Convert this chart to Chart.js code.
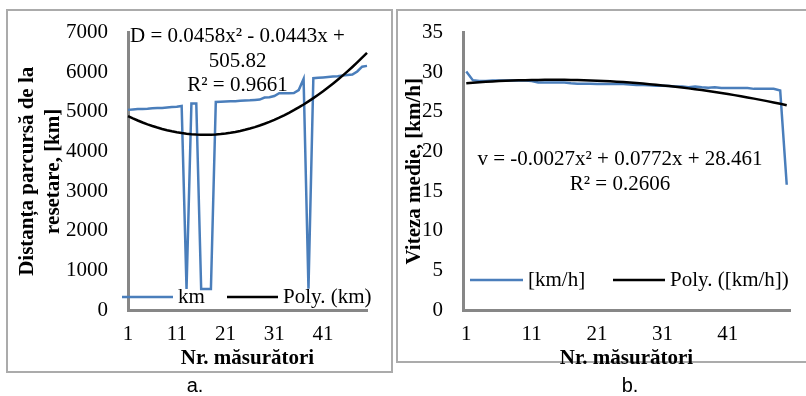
<!DOCTYPE html>
<html>
<head>
<meta charset="utf-8">
<script src="https://cdn.jsdelivr.net/npm/chart.js@4"></script>
<style>
body{margin:0;background:#fff;width:806px;height:396px;overflow:hidden;position:relative}
.box{position:absolute;border:2px solid #ababab;box-sizing:border-box}
canvas{position:absolute}
.cap{position:absolute;font:20px "Liberation Sans",Arial,sans-serif;transform:translateX(-50%)}
</style>
</head>
<body>
<div class="box" style="left:6px;top:9px;width:387px;height:364px"></div>
<div class="box" style="left:396px;top:9px;width:420px;height:354px"></div>
<canvas id="chartA" width="395" height="396" style="left:0;top:0"></canvas>
<canvas id="chartB" width="408" height="396" style="left:398px;top:0"></canvas>
<div class="cap" style="left:195px;top:374px">a.</div>
<div class="cap" style="left:630px;top:374px">b.</div>
<script>
// measurement number 1..50
const measurements = Array.from({length:50}, (_, i) => String(i+1));

// distance since reset [km]
const kmValues = [
  5050,5060,5070,5075,5080,5090,5095,5100,5110,5120,
  5130,5150,530,5210,5210,530,530,530,5250,5255,
  5260,5265,5270,5280,5285,5290,5300,5310,5360,5370,
  5400,5470,5470,5470,5475,5550,5830,540,5850,5860,
  5870,5880,5890,5900,5920,5930,5940,6020,6140,6160
];

// average speed [km/h]
const speedValues = [
  30.1,29.0,28.9,28.9,28.95,28.95,28.95,28.95,28.95,28.95,
  28.9,28.7,28.7,28.7,28.7,28.7,28.6,28.55,28.55,28.55,
  28.5,28.5,28.5,28.5,28.5,28.45,28.4,28.4,28.35,28.3,
  28.3,28.25,28.2,28.2,28.1,28.2,28.1,28.05,28.1,28.0,
  28.0,28.0,28.0,28.0,27.9,27.9,27.9,27.9,27.7,15.8
];

const eqA = ['D = 0.0458x\u00B2 - 0.0443x +', '505.82', 'R\u00B2 = 0.9661'];
const eqB = ['v = -0.0027x\u00B2 + 0.0772x + 28.461', 'R\u00B2 = 0.2606'];

// least squares quadratic, like excel's Poly trendline (x = 1..n)
function polyFit2(ys){
  let s0=0,s1=0,s2=0,s3=0,s4=0,t0=0,t1=0,t2=0;
  ys.forEach((y,i)=>{
    const x=i+1;
    s0+=1; s1+=x; s2+=x*x; s3+=x*x*x; s4+=x*x*x*x;
    t0+=y; t1+=x*y; t2+=x*x*y;
  });
  // solve 3x3
  const m=[[s4,s3,s2,t2],[s3,s2,s1,t1],[s2,s1,s0,t0]];
  for(let c=0;c<3;c++){
    for(let r=c+1;r<3;r++){
      const f=m[r][c]/m[c][c];
      for(let k=c;k<4;k++) m[r][k]-=f*m[c][k];
    }
  }
  const a=[0,0,0];
  for(let r=2;r>=0;r--){
    let s=m[r][3];
    for(let k=r+1;k<3;k++) s-=m[r][k]*a[k];
    a[r]=s/m[r][r];
  }
  return ys.map((_,i)=>{const x=i+1;return a[0]*x*x+a[1]*x+a[2];});
}

const serif = 'Liberation Serif';
const blue = '#4a7ebb';

const overlay = {
  id:'overlay',
  afterDraw(chart, args, opts){
    const {ctx, chartArea:ca} = chart;
    ctx.save();
    ctx.font = '21px "' + serif + '"';
    ctx.fillStyle = '#000';
    ctx.textBaseline = 'middle';
    ctx.textAlign = 'center';
    opts.eq.forEach((t,i)=>{
      ctx.fillText(t, ca.left + opts.eqX, ca.top + opts.eqY[i]);
    });
    // legend
    const ly = ca.bottom + opts.legY;
    ctx.textAlign = 'left';
    opts.leg.forEach(item=>{
      ctx.strokeStyle = item.color;
      ctx.lineWidth = 2.5;
      ctx.beginPath();
      ctx.moveTo(ca.left + item.x0, ly);
      ctx.lineTo(ca.left + item.x1, ly);
      ctx.stroke();
      ctx.fillText(item.text, ca.left + item.x1 + 5, ly);
    });
    ctx.restore();
  }
};

function makeChart(id, values, cfg){
  const trend = polyFit2(values);
  return new Chart(document.getElementById(id), {
    type:'line',
    data:{
      labels:measurements,
      datasets:[
        {label:cfg.trendLabel, data:trend, borderColor:'#000', borderWidth:2.5, pointRadius:0, tension:0, order:0},
        {label:cfg.label, data:values, borderColor:blue, borderWidth:2.5, pointRadius:0, tension:0, order:1}
      ]
    },
    options:{
      responsive:false,
      animation:false,
      events:[],
      layout:{padding:cfg.padding},
      plugins:{
        legend:{display:false},
        tooltip:{enabled:false},
        overlay:cfg.overlay
      },
      scales:{
        x:{
          offset:cfg.offset,
          grid:{display:false, drawTicks:false},
          border:{display:true, color:'#878787', width:3},
          ticks:{
            autoSkip:false, maxRotation:0, padding:12, color:'#000',
            font:{family:serif, size:21},
            callback:(v,i)=> i%10===0 ? measurements[i] : ''
          },
          title:{display:true, text:'Nr. măsurători', color:'#000', padding:{top:0,bottom:0},
            font:{family:serif, size:21, weight:'bold', lineHeight:1.25}},
          afterFit:s=>{ s.height = 62; }
        },
        y:{
          min:0, max:cfg.max,
          grid:{display:false, drawTicks:false},
          border:{display:true, color:'#878787', width:3},
          ticks:{stepSize:cfg.step, padding:cfg.tickPad, color:'#000', font:{family:serif, size:21},
            callback:v=>String(v)},
          title:{display:true, text:cfg.yTitle, color:'#000', padding:{top:cfg.titlePad,bottom:0},
            font:{family:serif, size:21, weight:'bold', lineHeight:1.25}},
          afterFit:s=>{ s.width = cfg.yWidth; }
        }
      }
    },
    plugins:[overlay]
  });
}

makeChart('chartA', kmValues, {
  label:'km', trendLabel:'Poly. (km)',
  offset:false, max:7000, step:1000,
  yTitle:['Distanța parcursă de la','resetare, [km]'],
  titlePad:14, tickPad:20, yWidth:128,
  padding:{left:0, top:25, right:28, bottom:24},
  overlay:{
    eq:eqA, eqX:109.5, eqY:[4,28.5,53],
    legY:-13,
    leg:[{color:blue, x0:-6, x1:45, text:'km'},{color:'#000', x0:99, x1:150, text:'Poly. (km)'}]
  }
});

makeChart('chartB', speedValues, {
  label:'[km/h]', trendLabel:'Poly. ([km/h])',
  offset:true, max:35, step:5,
  yTitle:'Viteza medie, [km/h]',
  titlePad:3, tickPad:20, yWidth:65,
  padding:{left:0, top:28, right:16, bottom:24},
  overlay:{
    eq:eqB, eqX:157, eqY:[127,152],
    legY:-30,
    leg:[{color:blue, x0:7, x1:60, text:'[km/h]'},{color:'#000', x0:150, x1:202, text:'Poly. ([km/h])'}]
  }
});
</script>
</body>
</html>
